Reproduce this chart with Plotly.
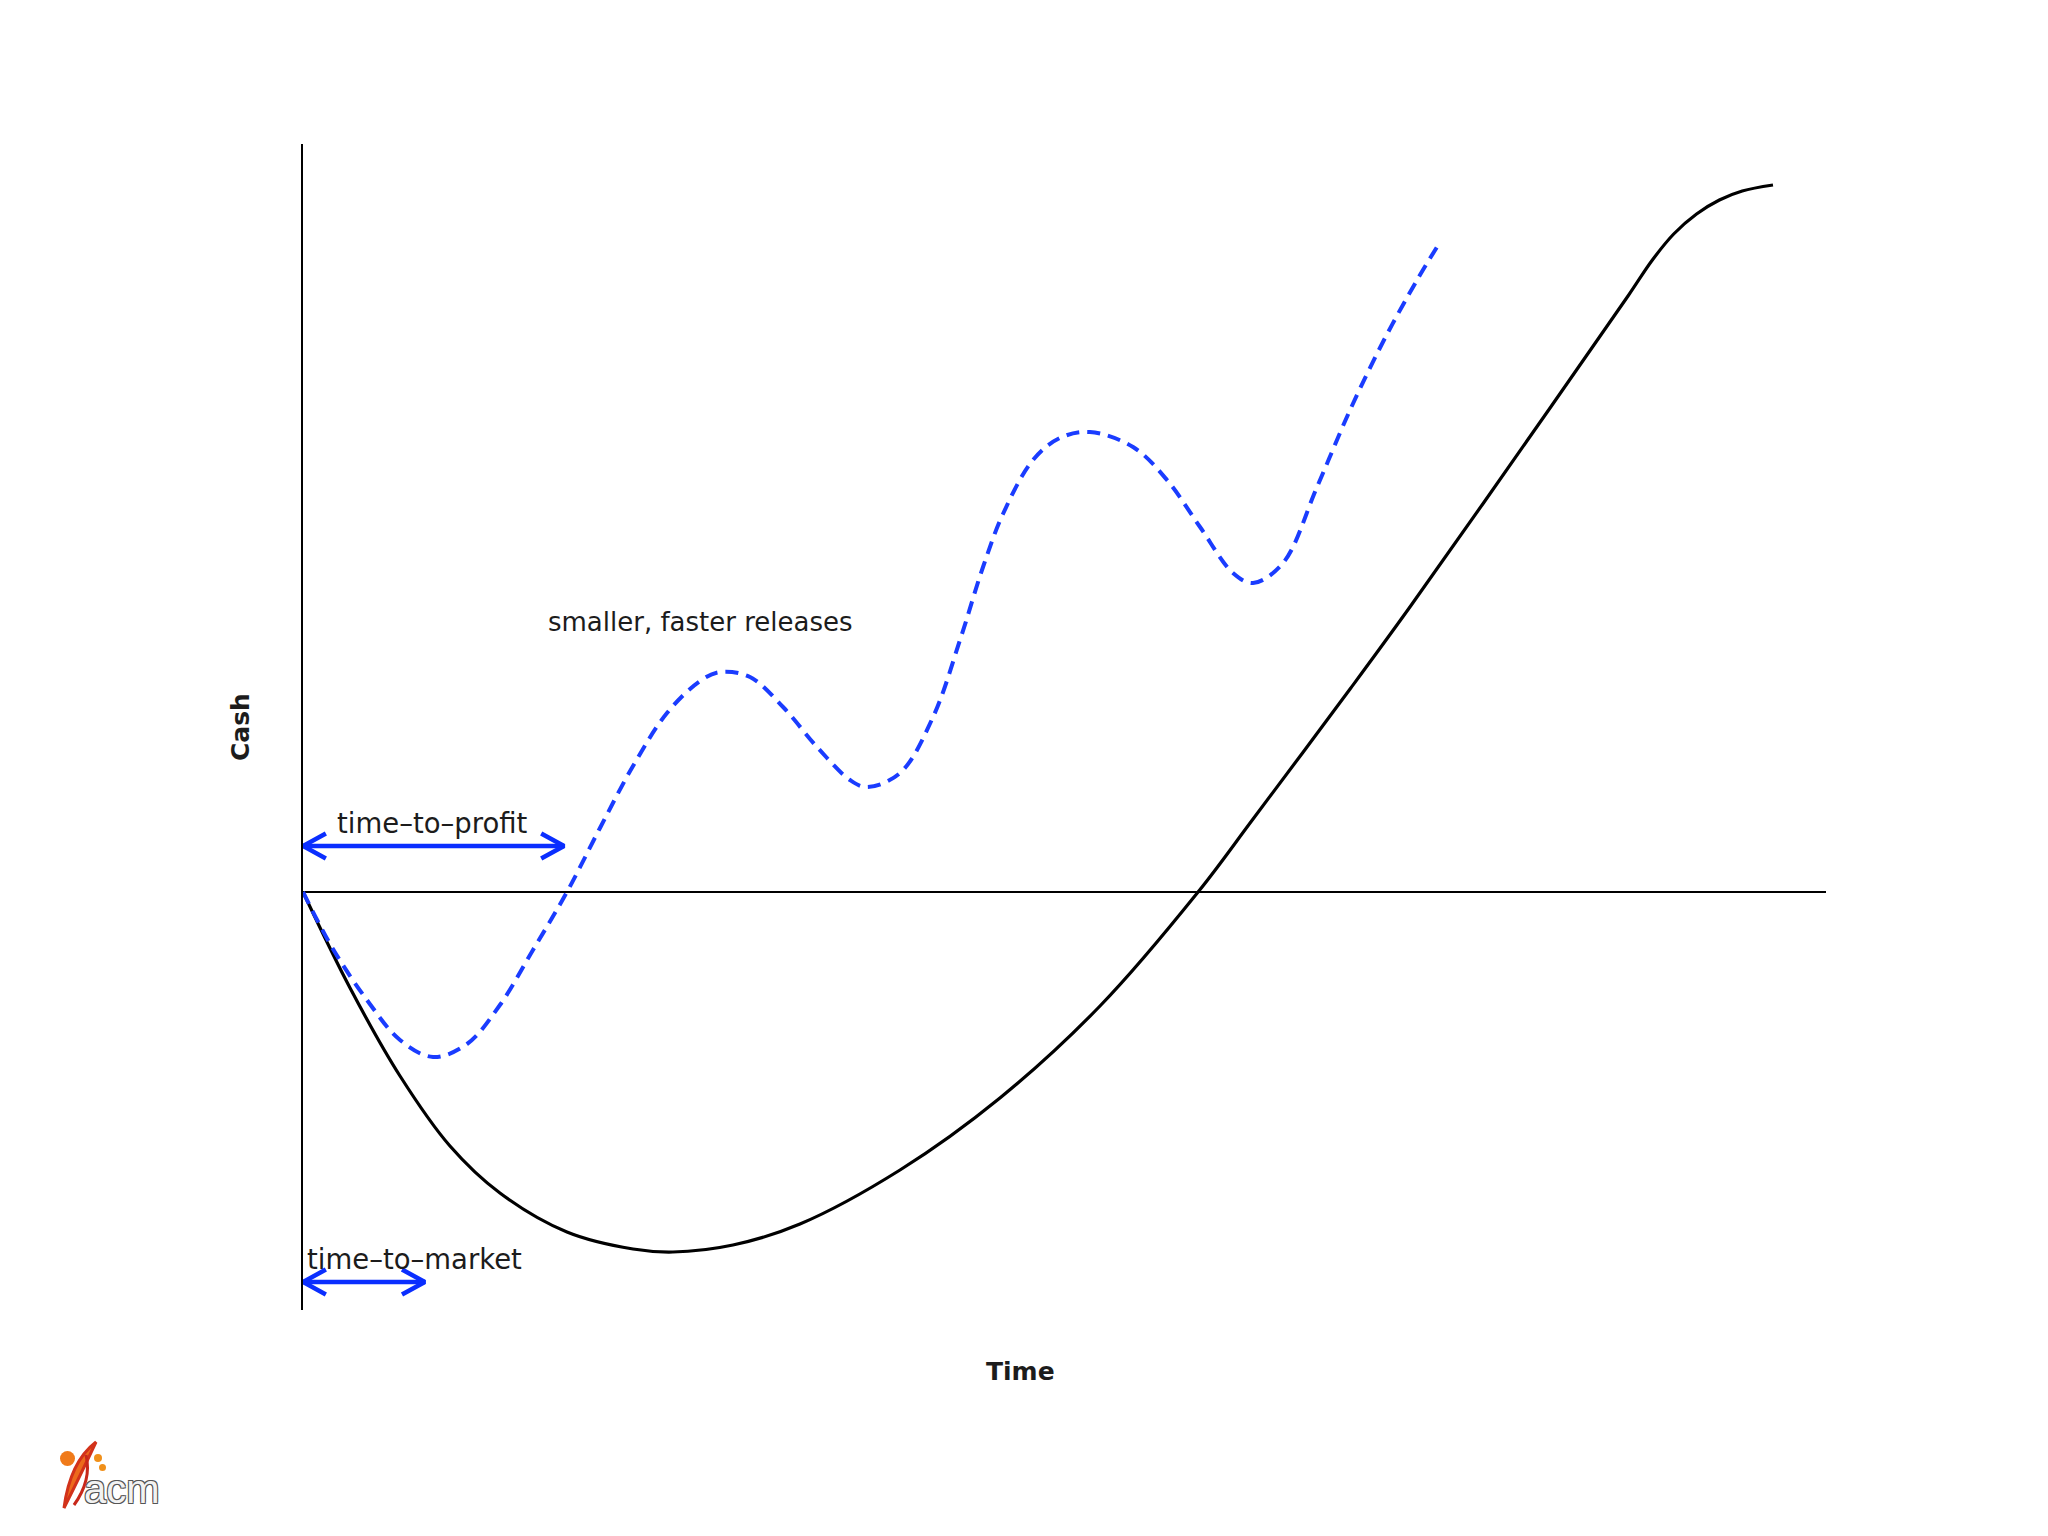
import plotly.graph_objects as go

# ---- data (time, cash in arbitrary units) ----
big_release_time = [0, 0.309, 0.637, 0.965, 1.293, 1.733, 2.167, 2.429, 2.823, 3.263,
                    3.920, 4.576, 5.233, 5.877, 6.238, 6.875, 7.268, 8.188, 8.70,
                    8.86, 9.00, 9.15, 9.30, 9.45, 9.652]
big_release_cash = [0, -0.96, -1.84, -2.54, -3.01, -3.40, -3.57, -3.60, -3.53, -3.32,
                     -2.78, -2.06, -1.14, 0, 0.73, 2.03, 2.85, 4.84, 5.96,
                     6.32, 6.58, 6.78, 6.92, 7.01, 7.07]

small_release_time = [0, 0.197, 0.420, 0.637, 0.854, 1.077, 1.293, 1.510, 1.733, 1.950,
                      2.167, 2.390, 2.607, 2.738, 2.935, 3.152, 3.375, 3.592, 3.703,
                      3.920, 4.137, 4.314, 4.465, 4.596, 4.793, 4.970, 5.167, 5.450,
                      5.673, 5.890, 6.106, 6.238, 6.435, 6.658, 6.875, 7.091, 7.315,
                      7.466]
small_release_cash = [0, -0.57, -1.08, -1.48, -1.65, -1.52, -1.13, -0.58, 0, 0.64,
                      1.26, 1.79, 2.11, 2.20, 2.15, 1.85, 1.45, 1.12, 1.05,
                      1.19, 1.75, 2.52, 3.25, 3.78, 4.32, 4.54, 4.60, 4.45,
                      4.12, 3.65, 3.19, 3.09, 3.29, 4.05, 4.82, 5.50, 6.12,
                      6.50]

# span arrows: [start_time, end_time], cash level
profit_span = [0, 1.714]
profit_level = 0.46
market_span = [0, 0.80]
market_level = -3.90

labels = ["smaller, faster releases", "time–to–profit", "time–to–market"]
label_time = [2.607, 0.847, 0.735]
label_cash = [2.70, 0.69, -3.67]
label_size = [26, 27.5, 27.5]

BLUE = "#1a3cff"
ARROW = "#0a2eff"
TEXT = "#1c1c1c"
FONT = "DejaVu Sans"

# page geometry (page has an 8px body margin)
OFF = 8
W, H = 2048 - 2 * OFF, 1536 - 2 * OFF
L, T = 303 - OFF, 144 - OFF
pw, ph = 1523, 1166
R, B = W - L - pw, H - T - ph


def px(X):
    return (X - OFF - L) / pw


def py(Y):
    return (T + ph - (Y - OFF)) / ph


fig = go.Figure()

fig.add_trace(go.Scatter(
    x=big_release_time, y=big_release_cash, mode="lines",
    line=dict(color="black", width=3.2, shape="spline", smoothing=1.0),
    hoverinfo="skip", showlegend=False))

fig.add_trace(go.Scatter(
    x=small_release_time, y=small_release_cash, mode="lines",
    line=dict(color=BLUE, width=4, shape="spline", smoothing=1.0, dash="13px,8px"),
    hoverinfo="skip", showlegend=False))

# double-headed span arrows with open chevron heads
hx, hy = 0.15, 0.125
for span, level in [(profit_span, profit_level), (market_span, market_level)]:
    s, e = span
    xs = [s + hx, s, s + hx, None, s, e, None, e - hx, e, e - hx]
    ys = [level + hy, level, level - hy, None, level, level, None, level + hy, level, level - hy]
    fig.add_trace(go.Scatter(x=xs, y=ys, mode="lines",
                             line=dict(color=ARROW, width=4.5),
                             hoverinfo="skip", showlegend=False))

annotations = []
for txt, t, c, sz in zip(labels, label_time, label_cash, label_size):
    annotations.append(dict(
        x=t, y=c, xref="x", yref="y", text=txt, showarrow=False,
        font=dict(family=FONT, size=sz, color=TEXT),
        xanchor="center", yanchor="middle"))

annotations.append(dict(
    x=px(1020), y=py(1371), xref="paper", yref="paper", text="<b>Time</b>",
    showarrow=False, font=dict(family=FONT, size=25, color=TEXT),
    xanchor="center", yanchor="middle"))
annotations.append(dict(
    x=px(240), y=py(727), xref="paper", yref="paper", text="<b>Cash</b>",
    showarrow=False, textangle=-90, font=dict(family=FONT, size=25, color=TEXT),
    xanchor="center", yanchor="middle"))
# logo text
annotations.append(dict(
    x=px(122), y=py(1489), xref="paper", yref="paper", text="acm", showarrow=False,
    font=dict(family="Liberation Sans Narrow, Liberation Sans", size=40, color="#f2f2f2",
              shadow="1px 1px 0 #555, -1px -1px 0 #555, 1px -1px 0 #555, -1px 1px 0 #555"),
    xanchor="center", yanchor="middle"))

logo_shapes = [
    dict(type="path", xref="paper", yref="paper",
         path="M {} {} Q {} {} {} {} Q {} {} {} {} Z".format(
             px(64), py(1508), px(70), py(1462), px(96), py(1442),
             px(82), py(1472), px(64), py(1508)),
         fillcolor="#ec6a1c", line=dict(color="#d2321a", width=3)),
    dict(type="path", xref="paper", yref="paper",
         path="M {} {} Q {} {} {} {}".format(
             px(74), py(1505), px(92), py(1480), px(86), py(1455)),
         line=dict(color="#c8281a", width=3)),
    dict(type="circle", xref="paper", yref="paper",
         x0=px(60), x1=px(75), y0=py(1466), y1=py(1451),
         fillcolor="#f07a1a", line=dict(width=0)),
    dict(type="circle", xref="paper", yref="paper",
         x0=px(94), x1=px(102), y0=py(1462), y1=py(1454),
         fillcolor="#f0901a", line=dict(width=0)),
    dict(type="circle", xref="paper", yref="paper",
         x0=px(99), x1=px(106), y0=py(1471), y1=py(1464),
         fillcolor="#f0901a", line=dict(width=0)),
]

fig.update_layout(
    width=W, height=H, autosize=False,
    margin=dict(l=L, r=R, t=T, b=B, pad=0),
    paper_bgcolor="white", plot_bgcolor="white",
    annotations=annotations,
    shapes=logo_shapes,
    xaxis=dict(range=[0, 10], showgrid=False, zeroline=False, showticklabels=False,
               ticks="", showline=False, fixedrange=True),
    yaxis=dict(range=[-4.18, 7.48], showgrid=False, zeroline=True, zerolinecolor="black",
               zerolinewidth=2, showticklabels=False, ticks="", showline=True,
               linecolor="black", linewidth=2, fixedrange=True),
)

fig.write_html("out.html")
